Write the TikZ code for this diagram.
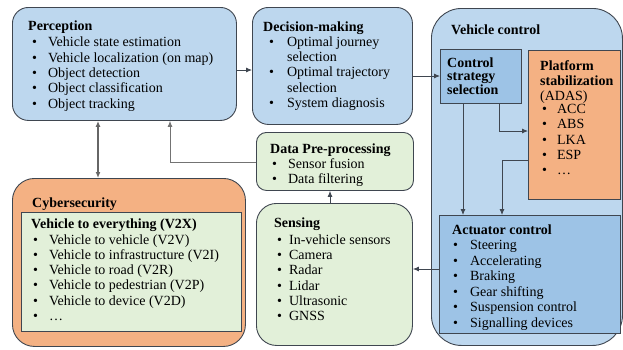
\documentclass[tikz,border=0pt]{standalone}
\usepackage{fontspec}
\setmainfont{Liberation Serif}
\newfontfamily\diagfont{Liberation Serif}
\usetikzlibrary{arrows.meta}

\definecolor{lightblue}{HTML}{BDD7EE}
\definecolor{midblue}{HTML}{9DC3E6}
\definecolor{lightorange}{HTML}{F4B183}
\definecolor{lightgreen}{HTML}{E2F0D9}
\definecolor{edgegray}{HTML}{3F4650}

\tikzset{
  box/.style={draw=edgegray, line width=0.9pt, anchor=north west, inner sep=0pt},
  roundbox/.style={box, rounded corners=#1},
  txt/.style={anchor=base west, inner sep=0pt, font=\diagfont\fontsize{14}{15.3}\selectfont},
  arr/.style={-{Latex[length=6pt,width=5pt]}, draw=edgegray, line width=0.8pt},
}

\begin{document}
\begin{tikzpicture}[x=1pt,y=-1pt]
    \useasboundingbox (0,0) rectangle (623,349);

    % boxes
    \node[roundbox=16pt, fill=lightblue, minimum width=224pt, minimum height=113pt] (perception) at (12,7) {};
    \node[roundbox=16pt, fill=lightblue, minimum width=160pt, minimum height=117pt] (decision) at (252,7) {};
    \node[roundbox=30pt, fill=lightblue, minimum width=191pt, minimum height=337pt] (vehicle) at (431,8) {};
    \node[box, fill=midblue, minimum width=81pt, minimum height=54pt] (css) at (440,49) {};
    \node[box, fill=lightorange, minimum width=92pt, minimum height=149pt] (platform) at (528,50) {};
    \node[box, fill=midblue, minimum width=181pt, minimum height=118pt] (actuator) at (439,215) {};
    \node[roundbox=10pt, fill=lightgreen, minimum width=157pt, minimum height=58pt] (datapre) at (256,132) {};
    \node[roundbox=20pt, fill=lightgreen, minimum width=156pt, minimum height=142pt] (sensing) at (256,203) {};
    \node[roundbox=22pt, fill=lightorange, minimum width=233pt, minimum height=168pt] (cyber) at (12,178) {};
    \node[box, fill=lightgreen, minimum width=220pt, minimum height=119pt] (v2x) at (21,212) {};

    % texts
    \node[txt] (pertxt) at (28,30) {\begin{tabular}[t]{@{\hspace{4pt}}l@{\hspace{11pt}}l@{}}
        \multicolumn{2}{@{}l@{}}{\textbf{Perception}}\\[1.5pt]
        \textbullet & Vehicle state estimation\\
        \textbullet & Vehicle localization (on map)\\
        \textbullet & Object detection\\
        \textbullet & Object classification\\
        \textbullet & Object tracking
    \end{tabular}};
    \node[txt] (dectxt) at (263,31) {\begin{tabular}[t]{@{\hspace{6pt}}l@{\hspace{13pt}}l@{}}
        \multicolumn{2}{@{}l@{}}{\textbf{Decision-making}}\\
        \textbullet & Optimal journey\\
                    & selection\\
        \textbullet & Optimal trajectory\\
                    & selection\\
        \textbullet & System diagnosis
    \end{tabular}};
    \node[txt] (vehtxt) at (451,34) {\textbf{Vehicle control}};
    \node[txt, font=\diagfont\fontsize{14}{13.6}\selectfont] (csstxt) at (447,67) {\begin{tabular}[t]{@{}l@{}}
        \textbf{Control}\\ \textbf{strategy}\\ \textbf{selection}
    \end{tabular}};
    \node[txt, font=\diagfont\fontsize{14}{15.1}\selectfont] (plattxt) at (540,70) {\begin{tabular}[t]{@{\hspace{2pt}}l@{\hspace{10pt}}l@{}}
        \multicolumn{2}{@{}l@{}}{\textbf{Platform}}\\
        \multicolumn{2}{@{}l@{}}{\textbf{stabilization}}\\
        \multicolumn{2}{@{}l@{}}{(ADAS)}\\[-1.5pt]
        \textbullet & ACC\\
        \textbullet & ABS\\
        \textbullet & LKA\\
        \textbullet & ESP\\
        \textbullet & \dots
    \end{tabular}};
    \node[txt, font=\diagfont\fontsize{14}{15.5}\selectfont] (acttxt) at (452,234) {\begin{tabular}[t]{@{\hspace{1pt}}l@{\hspace{12pt}}l@{}}
        \multicolumn{2}{@{}l@{}}{\textbf{Actuator control}}\\
        \textbullet & Steering\\
        \textbullet & Accelerating\\
        \textbullet & Braking\\
        \textbullet & Gear shifting\\
        \textbullet & Suspension control\\
        \textbullet & Signalling devices
    \end{tabular}};
    \node[txt] (datatxt) at (270,153) {\begin{tabular}[t]{@{\hspace{2pt}}l@{\hspace{11pt}}l@{}}
        \multicolumn{2}{@{}l@{}}{\textbf{Data Pre-processing}}\\
        \textbullet & Sensor fusion\\
        \textbullet & Data filtering
    \end{tabular}};
    \node[txt] (senstxt) at (274,227) {\begin{tabular}[t]{@{\hspace{3pt}}l@{\hspace{7pt}}l@{}}
        \multicolumn{2}{@{}l@{}}{\textbf{Sensing}}\\[2pt]
        \textbullet & In-vehicle sensors\\
        \textbullet & Camera\\
        \textbullet & Radar\\
        \textbullet & Lidar\\
        \textbullet & Ultrasonic\\
        \textbullet & GNSS
    \end{tabular}};
    \node[txt] (cybtxt) at (32,207) {\textbf{Cybersecurity}};
    \node[txt, font=\diagfont\fontsize{14}{15.2}\selectfont] (v2xtxt) at (31,228) {\begin{tabular}[t]{@{\hspace{2pt}}l@{\hspace{11pt}}l@{}}
        \multicolumn{2}{@{}l@{}}{\textbf{Vehicle to everything (V2X)}}\\[1pt]
        \textbullet & Vehicle to vehicle (V2V)\\
        \textbullet & Vehicle to infrastructure (V2I)\\
        \textbullet & Vehicle to road (V2R)\\
        \textbullet & Vehicle to pedestrian (V2P)\\
        \textbullet & Vehicle to device (V2D)\\
        \textbullet & \dots
    \end{tabular}};

    % connectors
    \draw[arr] (perception.east |- 0,70) -- (decision.west |- 0,70);
    \draw[arr] (decision.east |- 0,76) -- (css.west |- 0,76);
    \draw[arr, {Latex[length=6pt,width=5pt]}-{Latex[length=6pt,width=5pt]}, draw=black!60, line width=1.3pt] (perception.south -| 98,0) -- (cyber.north -| 98,0);
    \draw[arr, draw=black!55] (datapre.west |- 0,162) -| (perception.south -| 170,0);
    \draw[arr] (sensing.north -| 330,0) -- (datapre.south -| 330,0);
    \draw[arr] (actuator.west |- 0,269) -- (sensing.east |- 0,269);
    \draw[arr] (css.south -| 463,0) -- (actuator.north -| 463,0);
    \draw[arr] (css.south -| 499,0) |- (platform.west |- 0,131);
    \draw[arr] (platform.west |- 0,160) -| (actuator.north -| 502,0);
\end{tikzpicture}
\end{document}
